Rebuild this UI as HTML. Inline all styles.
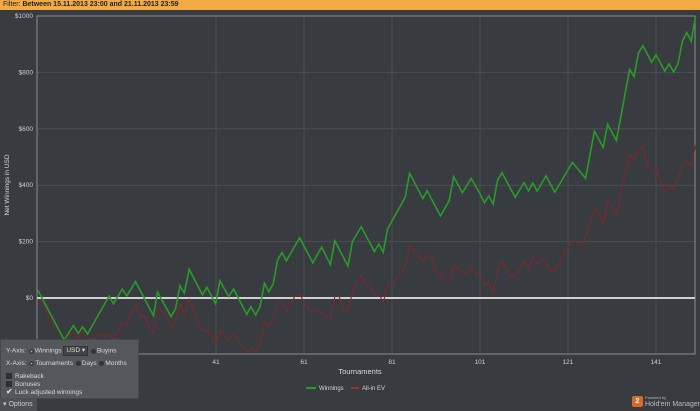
<!DOCTYPE html>
<html><head><meta charset="utf-8">
<style>
html,body{margin:0;padding:0;background:#383b3f;}
body{width:700px;height:411px;overflow:hidden;position:relative;font-family:"Liberation Sans",sans-serif;}
#hdr{position:absolute;left:0;top:0;width:700px;height:10px;background:#f2aa45;font-size:7px;line-height:10px;color:#222;padding-left:3px;box-sizing:border-box;}
#hdr b{font-weight:bold;}
svg{position:absolute;left:0;top:0;}
#panel{position:absolute;left:0;top:339px;width:137px;height:58px;background:#54585b;border:1px solid #45484b;font-size:6.5px;color:#d8d8d8;}
.row{position:absolute;left:5px;white-space:nowrap;}
.rad{display:inline-block;width:5px;height:5px;border-radius:50%;background:#333;vertical-align:middle;margin:0 1px;}
.rad.on{background:#333;box-shadow:inset 0 0 0 1.5px #333, inset 0 0 0 3px #aaa;}
.chk{display:inline-block;width:6px;height:6px;background:#2d2f32;vertical-align:middle;margin-right:3px;}
.sel{display:inline-block;border:1px solid #333;background:#444;padding:0 2px;height:8px;line-height:8px;vertical-align:middle;}
#opt{position:absolute;left:0;top:398px;width:37px;height:13px;background:#4c5053;font-size:7px;color:#ccc;line-height:13px;padding-left:3px;box-sizing:border-box;}
#logo{position:absolute;left:632px;top:394px;font-size:7px;color:#bbb;}
</style></head><body>
<div id="hdr">Filter: <b>Between 15.11.2013 23:00 and 21.11.2013 23:59</b></div>
<svg id="chart" width="700" height="411"></svg>
<div id="panel">
 <div class="row" style="top:6px">Y-Axis: <span class="rad on"></span>Winnings <span class="sel">USD ▾</span> <span class="rad"></span>Buyins</div>
 <div class="row" style="top:20px">X-Axis: <span class="rad on"></span>Tournaments <span class="rad"></span>Days <span class="rad"></span>Months</div>
 <div class="row" style="top:33px"><span class="chk"></span>Rakeback</div>
 <div class="row" style="top:41px"><span class="chk"></span>Bonuses</div>
 <div class="row" style="top:49px"><span class="chk" style="background:none;color:#eee;font-size:8px;line-height:6px">✔</span>Luck adjusted winnings</div>
</div>
<div id="opt">▾ Options</div>
<div id="logo"><span style="display:inline-block;width:11px;height:11px;background:#d9692a;border-radius:2px;color:#fff;text-align:center;line-height:11px;font-weight:bold;vertical-align:middle">2</span> <span style="display:inline-block;vertical-align:middle;line-height:7px"><span style="font-size:4px">Powered by</span><br>Hold'em Manager</span></div>
<script>
const xTicks=[41,61,81,101,121,141];
const yTicks=[0,200,400,600,800,1000];
const yTickLabels=["$0","$200","$400","$600","$800","$1000"];
const winT=[0.5,6.5,8.6,9.7,10.7,11.8,16.7,17.7,19.7,20.7,22.7,26.8,27.7,30.8,31.8,32.8,33.8,34.9,37.9,38.9,40.9,41.9,43.9,45,48,48.9,50,51,52,53,54,55,56,57,60,63,65,67,68,71,72,74,77,78,79,80,84,85,88,89,92,94,95,97,99,101,102,103,104,105,106,109,111,112,113,114,116,118,122,125,127,129,130,132,135,136,137,138,140,141,143,144,145,146,147,148,149,150];
const winV=[28,-149,-98,-125,-102,-128,7,-21,32,7,58,-63,21,-66,-39,44,17,102,11,38,-21,61,5,32,-58,-31,-60,-31,52,22,50,135,161,132,214,125,180,119,203,113,200,253,165,191,162,245,357,442,353,380,291,345,430,373,424,370,338,362,333,418,444,357,409,380,407,379,433,375,481,424,592,534,616,558,811,785,868,895,836,862,805,830,801,830,911,941,911,1000];
const evT=[0.5,1.4,2.5,4.4,5.5,6.5,7.6,8.6,9.7,10.7,11.7,14.6,15.6,16.7,17.7,19.7,20.7,21.8,22.7,23.7,24.7,26.8,27.7,29.8,30.8,31.8,32.8,33.8,34.9,35.8,36.8,37.9,38.9,39.9,40.9,41.9,43.9,45,48,48.9,50,51,52,53,54,55,56,57,59,60,62,63,64,66,67,68,69,70,71,72,74,75,76,77,78,79,80,81,83,84,85,88,89,90,91,92,93,94,95,96,97,98,99,101,102,103,104,105,106,108,109,111,112,113,114,115,116,117,118,120,121,122,123,124,127,128,129,130,131,132,133,135,136,137,138,139,140,141,143,144,145,147,148,149,150];
const evV=[-5,-7,-54,-108,-119,-145,-131,-123,-143,-116,-155,-128,-138,-128,-145,-90,-98,-48,-27,-66,-66,-125,-34,-63,-108,-80,-19,-59,-5,-37,-87,-113,-116,-133,-163,-116,-149,-129,-194,-178,-192,-166,-86,-101,-80,-17,-17,-46,8,13,-40,-50,-39,-66,-78,5,5,-46,-50,22,82,49,40,11,16,-16,42,48,90,107,188,129,152,144,96,82,62,61,115,103,91,88,106,75,43,56,17,102,129,74,82,129,102,149,121,138,129,94,94,158,178,202,202,172,314,300,259,342,322,294,371,510,487,525,539,466,448,456,374,399,383,466,484,466,543];
const NS='http://www.w3.org/2000/svg';
const svg=document.getElementById('chart');
const L=37,R=695,T=16,B=354;
function xs(t){return 216+(t-41)*4.4;}
function ys(v){return 298-v*0.282;}
function mk(tag,attrs,parent){const e=document.createElementNS(NS,tag);for(const k in attrs)e.setAttribute(k,attrs[k]);(parent||svg).appendChild(e);return e;}
let g;
yTicks.forEach((v,i)=>{
 g=mk('line',{x1:L,x2:R,y1:ys(v),y2:ys(v),stroke:'#4a4e52','stroke-width':1});
 
 
 g=mk('text',{x:33,y:ys(v)+2,'text-anchor':'end','font-size':6.5,fill:'#cfcfcf','font-family':'Liberation Sans, sans-serif'});
 g.textContent=yTickLabels[i];
 
 
});
xTicks.forEach(t=>{
 g=mk('line',{x1:xs(t),x2:xs(t),y1:T,y2:B,stroke:'#4a4e52','stroke-width':1});
 
 
 g=mk('text',{x:xs(t),y:364,'text-anchor':'middle','font-size':6.5,fill:'#cfcfcf','font-family':'Liberation Sans, sans-serif'});
 g.textContent=t;
 
 
});
g=mk('rect',{x:L,y:T,width:R-L,height:B-T,fill:'none',stroke:'#8a8d90','stroke-width':1});


g=mk('line',{x1:L,x2:R,y1:ys(0),y2:ys(0),stroke:'#d0d0d0','stroke-width':2});


function path(ts,vs){return ts.map((t,i)=>(i?'L':'M')+xs(t).toFixed(1)+' '+ys(vs[i]).toFixed(1)).join(' ');}
g=mk('path',{d:path(evT,evV),fill:'none',stroke:'#7a2a2c','stroke-width':1.1});


g=mk('path',{d:path(winT,winV),fill:'none',stroke:'#2a9a2a','stroke-width':1.6});


g=mk('text',{x:360,y:374,'text-anchor':'middle','font-size':7.5,fill:'#d8d8d8','font-family':'Liberation Sans, sans-serif'});
g.textContent='Tournaments';


g=mk('text',{x:9,y:185,'text-anchor':'middle','font-size':6.5,fill:'#d8d8d8','font-family':'Liberation Sans, sans-serif',transform:'rotate(-90 9 185)'});
g.textContent='Net Winnings in USD';


g=mk('line',{x1:306,x2:316,y1:388,y2:388,stroke:'#2a9a2a','stroke-width':2});


g=mk('text',{x:319,y:390,'font-size':6,fill:'#d8d8d8','font-family':'Liberation Sans, sans-serif'});
g.textContent='Winnings';


g=mk('line',{x1:351,x2:359,y1:388,y2:388,stroke:'#9a3034','stroke-width':2});


g=mk('text',{x:362,y:390,'font-size':6,fill:'#d8d8d8','font-family':'Liberation Sans, sans-serif'});
g.textContent='All-in EV';


</script>
</body></html>
